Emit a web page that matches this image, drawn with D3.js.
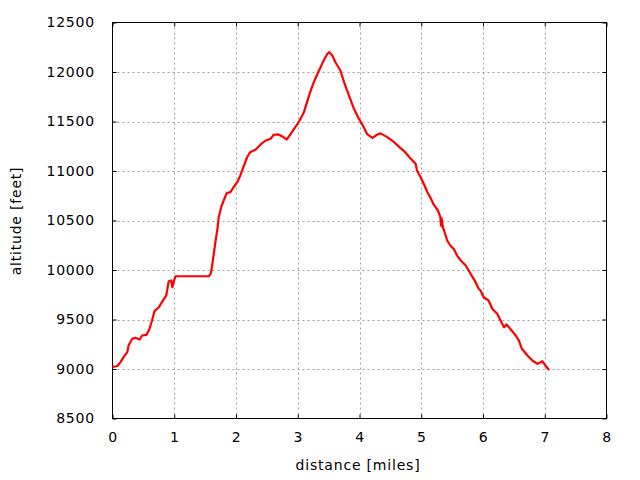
<!DOCTYPE html>
<html>
<head>
<meta charset="utf-8">
<script src="https://cdn.jsdelivr.net/npm/d3@7"></script>
<style>
  html, body { margin: 0; padding: 0; background: #fff; }
  svg text { font-family: "DejaVu Sans", sans-serif; font-size: 14px; fill: #000; letter-spacing: 0.8px; }
</style>
</head>
<body>
<svg id="chart" width="640" height="480"></svg>
<script>
const distance = [0, 0.08, 0.13, 0.18, 0.24, 0.26, 0.32, 0.37, 0.44, 0.48, 0.55, 0.60, 0.64, 0.68, 0.75, 0.80, 0.87, 0.89, 0.91, 0.95, 0.97, 0.99, 1.02, 1.56, 1.59, 1.61, 1.64, 1.67, 1.70, 1.72, 1.76, 1.80, 1.85, 1.91, 1.96, 2.02, 2.07, 2.13, 2.18, 2.23, 2.32, 2.40, 2.48, 2.56, 2.61, 2.69, 2.75, 2.82, 2.87, 2.94, 2.99, 3.03, 3.10, 3.15, 3.21, 3.26, 3.32, 3.37, 3.42, 3.48, 3.51, 3.56, 3.61, 3.69, 3.75, 3.80, 3.85, 3.91, 3.99, 4.07, 4.12, 4.21, 4.29, 4.34, 4.45, 4.56, 4.66, 4.74, 4.83, 4.91, 4.93, 4.99, 5.04, 5.10, 5.15, 5.20, 5.27, 5.31, 5.32, 5.33, 5.35, 5.37, 5.42, 5.47, 5.53, 5.58, 5.64, 5.72, 5.80, 5.88, 5.93, 5.96, 6.01, 6.09, 6.15, 6.23, 6.31, 6.34, 6.38, 6.44, 6.53, 6.58, 6.63, 6.72, 6.80, 6.88, 6.96, 7.01, 7.07];
const altitude = [9020, 9030, 9070, 9120, 9170, 9237, 9305, 9315, 9298, 9338, 9345, 9406, 9490, 9584, 9624, 9675, 9742, 9810, 9887, 9894, 9826, 9877, 9937, 9937, 9961, 10028, 10163, 10298, 10416, 10533, 10634, 10702, 10776, 10786, 10836, 10887, 10955, 11056, 11139, 11190, 11217, 11268, 11308, 11325, 11366, 11369, 11349, 11318, 11359, 11426, 11470, 11510, 11594, 11695, 11813, 11897, 11982, 12049, 12116, 12184, 12200, 12167, 12099, 12015, 11897, 11813, 11729, 11628, 11527, 11442, 11376, 11335, 11369, 11380, 11342, 11291, 11234, 11190, 11123, 11072, 11005, 10937, 10871, 10786, 10729, 10662, 10601, 10533, 10449, 10520, 10430, 10399, 10298, 10247, 10210, 10146, 10096, 10045, 9961, 9877, 9810, 9793, 9725, 9692, 9608, 9558, 9457, 9422, 9450, 9406, 9338, 9288, 9204, 9136, 9086, 9052, 9079, 9035, 8990];
const xTicks = [0, 1, 2, 3, 4, 5, 6, 7, 8];
const yTicks = [8500, 9000, 9500, 10000, 10500, 11000, 11500, 12000, 12500];
const xLabel = "distance [miles]";
const yLabel = "altitude [feet]";

const svg = d3.select("#chart");
const L = 112.5, R = 606.5, T = 22.5, B = 418.5;
const x = d3.scaleLinear().domain([0, 8]).range([L, R]);
const y = d3.scaleLinear().domain([8500, 12500]).range([B, T]);

// grid
const grid = svg.append("g").attr("stroke", "#a0a0a0").attr("stroke-width", 1).attr("stroke-dasharray", "2,3");
grid.selectAll(".gx").data(xTicks.slice(1, -1)).join("line")
  .attr("x1", d => Math.round(x(d)) + 0.5).attr("x2", d => Math.round(x(d)) + 0.5)
  .attr("y1", T).attr("y2", B);
grid.selectAll(".gy").data(yTicks.slice(1, -1)).join("line")
  .attr("y1", d => Math.round(y(d)) + 0.5).attr("y2", d => Math.round(y(d)) + 0.5)
  .attr("x1", L).attr("x2", R);

// axes (ticks inside, mirrored)
const ax = svg.append("g");
ax.append("g").attr("transform", `translate(0,${B})`)
  .call(d3.axisBottom(x).tickValues(xTicks).tickSize(-4).tickPadding(14).tickFormat(d3.format("d")));
ax.append("g").attr("transform", `translate(0,${T})`)
  .call(d3.axisTop(x).tickValues(xTicks).tickSize(-4).tickFormat(""));
ax.append("g").attr("transform", `translate(${L},0)`)
  .call(d3.axisLeft(y).tickValues(yTicks).tickSize(-4).tickPadding(17.5).tickFormat(d3.format("d")));
ax.append("g").attr("transform", `translate(${R},0)`)
  .call(d3.axisRight(y).tickValues(yTicks).tickSize(-4).tickFormat(""));
ax.selectAll(".domain").remove();
ax.selectAll(".tick line").attr("stroke", "#000");
ax.selectAll("text").attr("font-family", "DejaVu Sans, sans-serif").attr("font-size", 14).attr("fill", "#000");

// border
svg.append("rect").attr("x", L).attr("y", T).attr("width", R - L).attr("height", B - T)
  .attr("fill", "none").attr("stroke", "#000").attr("stroke-width", 1);

// line
const pts = distance.map((d, i) => [d, altitude[i]]);
svg.append("path").datum(pts)
  .attr("fill", "none").attr("stroke", "#ff0000").attr("stroke-width", 2.2)
  .attr("stroke-linejoin", "round")
  .attr("d", d3.line().x(d => x(d[0])).y(d => y(d[1])));

// labels
svg.append("text").attr("x", 358).attr("y", 470).attr("text-anchor", "middle").text(xLabel);
svg.append("text").attr("transform", "translate(20.5,221) rotate(-90)").attr("text-anchor", "middle").text(yLabel);
</script>
</body>
</html>
